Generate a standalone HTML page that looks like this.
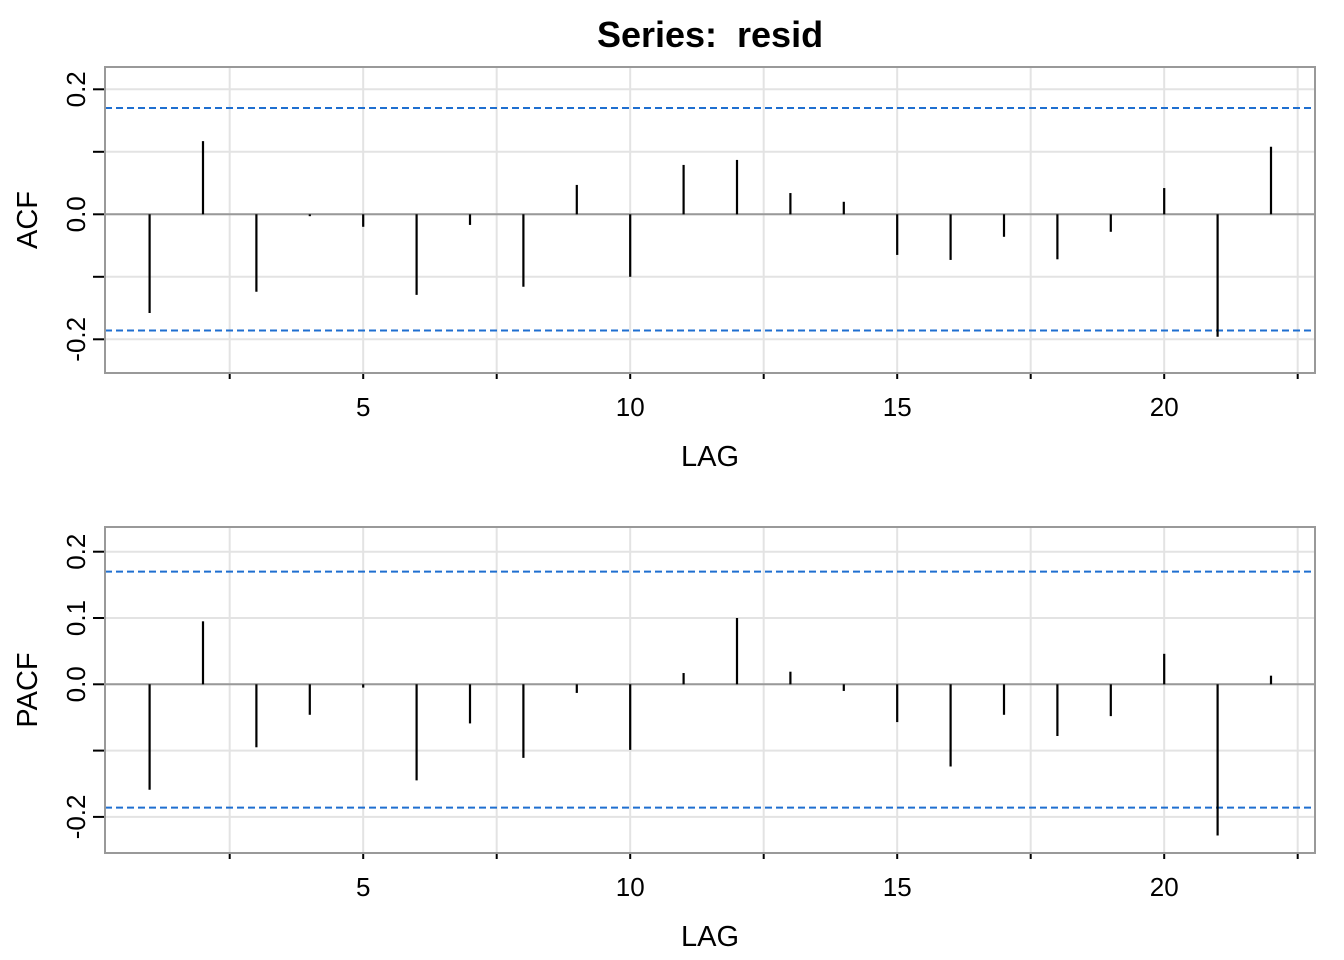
<!DOCTYPE html>
<html><head><meta charset="utf-8"><style>body{margin:0;background:#fff}svg{display:block}</style></head>
<body>
<svg id="chart" width="1344" height="960" xmlns="http://www.w3.org/2000/svg" font-family="Liberation Sans, sans-serif">
<text x="710" y="47" text-anchor="middle" font-size="36" font-weight="bold" xml:space="preserve" style="white-space:pre">Series:  resid</text>
</svg>
<script>
const lags = [1,2,3,4,5,6,7,8,9,10,11,12,13,14,15,16,17,18,19,20,21,22];
const acfValues = [-0.158,0.117,-0.124,-0.003,-0.02,-0.129,-0.017,-0.116,0.047,-0.1,0.079,0.087,0.034,0.02,-0.065,-0.073,-0.036,-0.072,-0.028,0.042,-0.196,0.108];
const pacfValues = [-0.159,0.095,-0.095,-0.046,-0.005,-0.145,-0.059,-0.111,-0.013,-0.099,0.017,0.1,0.019,-0.01,-0.057,-0.124,-0.046,-0.078,-0.048,0.046,-0.228,0.013];
const confUpper = 0.17;
const confLower = -0.186;
const xTickValues = [2.5,5,7.5,10,12.5,15,17.5,20,22.5];
const xTickLabels = ["","5","","10","","15","","20",""];
const acfYTicks = [0.2,0.1,0,-0.1,-0.2];
const acfYLabels = ["0.2","","0.0","","-0.2"];
const pacfYTicks = [0.2,0.1,0,-0.1,-0.2];
const pacfYLabels = ["0.2","0.1","0.0","","-0.2"];

const svg = document.getElementById('chart');
const NS = 'http://www.w3.org/2000/svg';
function mk(tag, attrs, parent){const e=document.createElementNS(NS,tag);for(const k in attrs)e.setAttribute(k,attrs[k]);(parent||svg).appendChild(e);return e;}
const X0=105, X1=1315;
const xScale = l => 149.6 + (l-1)*53.4;

function panel(name, top, bottom, zeroY, pxPerUnit, values, yTicks, yLabels, yTitle, lagY, tickLabelY){
  const y = v => zeroY - v*pxPerUnit;
  const g = mk('g', {});
  
  
  yTicks.forEach((t,i)=>{
    const ln = mk('line',{x1:X0,x2:X1,y1:y(t),y2:y(t),stroke:'#e3e3e3','stroke-width':2},g);
    
    
    const tk = mk('line',{x1:X0-12,x2:X0,y1:y(t),y2:y(t),stroke:'#000','stroke-width':2},g);
    
    
    if(yLabels[i]){
      const tx = mk('text',{x:0,y:0,'font-size':26,'text-anchor':'middle',transform:`translate(85,${y(t)}) rotate(-90)`},g);
      tx.textContent = yLabels[i];
      
      
    }
  });
  xTickValues.forEach((t,i)=>{
    const ln = mk('line',{x1:xScale(t),x2:xScale(t),y1:top,y2:bottom,stroke:'#e3e3e3','stroke-width':2},g);
    
    
    const tk = mk('line',{x1:xScale(t),x2:xScale(t),y1:bottom,y2:bottom+6,stroke:'#000','stroke-width':2},g);
    
    
    if(xTickLabels[i]){
      const tx = mk('text',{x:xScale(t),y:tickLabelY,'font-size':26,'text-anchor':'middle'},g);
      tx.textContent = xTickLabels[i];
      
      
    }
  });
  const zl = mk('line',{x1:X0,x2:X1,y1:y(0),y2:y(0),stroke:'#999','stroke-width':2},g);
  
  
  [confUpper, confLower].forEach(c=>{
    const d = mk('line',{x1:X0,x2:X1,y1:y(c),y2:y(c),stroke:'#1f6fd0','stroke-width':2,'stroke-dasharray':'7,4'},g);
    
    
  });
  values.forEach((v,i)=>{
    const b = mk('line',{x1:xScale(lags[i]),x2:xScale(lags[i]),y1:y(0),y2:y(v),stroke:'#000','stroke-width':2.2},g);
    
    
  });
  const box = mk('rect',{x:X0,y:top,width:X1-X0,height:bottom-top,fill:'none',stroke:'#999','stroke-width':2},g);
  
  
  const yt = mk('text',{x:0,y:0,'font-size':29,'text-anchor':'middle',transform:`translate(37,${(top+bottom)/2}) rotate(-90)`},g);
  yt.textContent = yTitle;
  
  
  const xt = mk('text',{x:710,y:lagY,'font-size':29,'text-anchor':'middle'},g);
  xt.textContent = 'LAG';
  
  
}
panel('acf', 67, 373, 214.3, 625, acfValues, acfYTicks, acfYLabels, 'ACF', 466, 416);
panel('pacf', 527, 853, 684.3, 663, pacfValues, pacfYTicks, pacfYLabels, 'PACF', 946, 896);
</script>
</body></html>
